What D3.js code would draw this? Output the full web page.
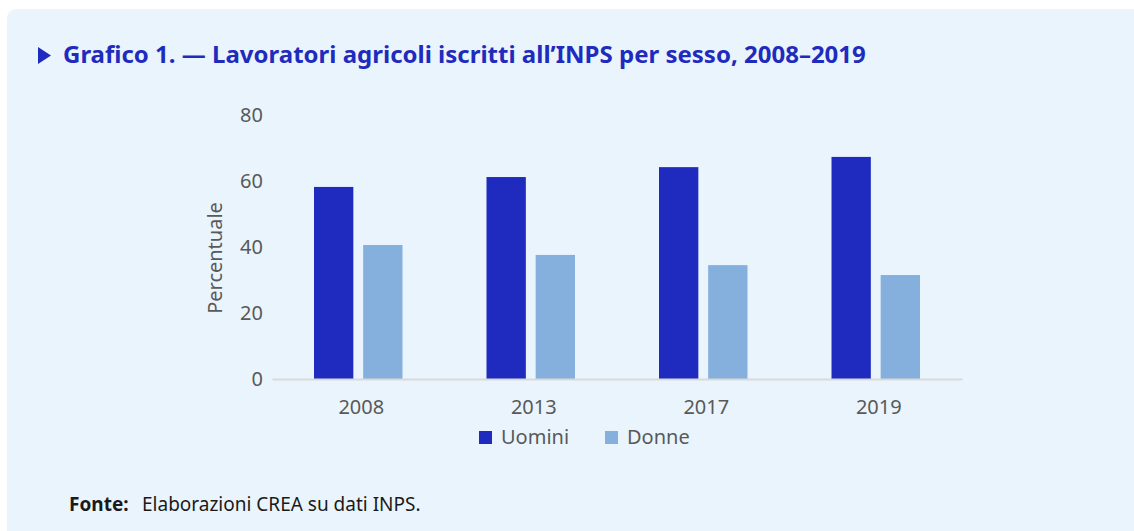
<!DOCTYPE html>
<html lang="it">
<head>
<meta charset="UTF-8">
<script src="https://d3js.org/d3.v7.min.js"></script>
<style>
  body { margin: 0; background: #fff; font-family: "Noto Sans", sans-serif; }
</style>
</head>
<body>
<svg id="chart" width="1134" height="531"></svg>
<script>
// data
var years = ["2008", "2013", "2017", "2019"];
var series = ["Uomini", "Donne"];
var uomini = [58.2, 61.2, 64.2, 67.3];
var donne = [40.6, 37.6, 34.5, 31.5];
var yTicks = [0, 20, 40, 60, 80];
var colours = ["#1f2bbe", "#85afdc"];

var svg = d3.select("#chart");

// light blue panel
svg.append("rect")
  .attr("x", 7).attr("y", 9)
  .attr("width", 1140).attr("height", 540)
  .attr("rx", 9)
  .attr("fill", "#eaf4fd");

// title
svg.append("path")
  .attr("d", "M38,47 L51,55.5 L38,64 Z")
  .attr("fill", "#1f2bbe");
svg.append("text")
  .attr("x", 63).attr("y", 63)
  .attr("font-size", 24).attr("font-weight", "bold")
  .attr("fill", "#1f2bbe")
  .text("Grafico 1. \u2014 Lavoratori agricoli iscritti all\u2019INPS per sesso, 2008\u20132019");

var rows = years.map(function (y, i) {
  return { year: y, values: [uomini[i], donne[i]] };
});

var x = d3.scaleBand().domain(years).range([272, 962]);
var xSub = d3.scaleBand().domain(series)
  .range([42, x.bandwidth() - 42]).paddingInner(0.2);
var y = d3.scaleLinear().domain([0, 80]).range([379, 115]);

// y axis labels
var yAxis = svg.append("g")
  .attr("transform", "translate(263,0)")
  .call(d3.axisLeft(y).tickValues(yTicks).tickSize(0).tickPadding(0));
yAxis.select(".domain").remove();
yAxis.selectAll("text")
  .attr("font-family", "Noto Sans").attr("font-size", 20).attr("fill", "#595959");

svg.append("text")
  .attr("transform", "translate(222,258) rotate(-90)")
  .attr("text-anchor", "middle")
  .attr("font-size", 20).attr("fill", "#595959")
  .text("Percentuale");

// bars
var groups = svg.selectAll(".year")
  .data(rows)
  .enter().append("g")
  .attr("class", "year")
  .attr("transform", function (d) { return "translate(" + x(d.year) + ",0)"; });

groups.selectAll("rect")
  .data(function (d) { return d.values.map(function (v, i) { return { key: series[i], value: v, i: i }; }); })
  .enter().append("rect")
  .attr("x", function (d) { return xSub(d.key); })
  .attr("width", xSub.bandwidth())
  .attr("y", function (d) { return y(d.value); })
  .attr("height", function (d) { return y(0) - y(d.value); })
  .attr("fill", function (d) { return colours[d.i]; });

// x axis
var xAxis = svg.append("g")
  .attr("transform", "translate(0," + y(0) + ")")
  .call(d3.axisBottom(x).tickSize(0).tickPadding(21));
xAxis.select(".domain").attr("stroke", "#d9d9d9").attr("stroke-width", 2);
xAxis.selectAll("text")
  .attr("dx", 3)
  .attr("font-family", "Noto Sans").attr("font-size", 20).attr("fill", "#595959");

// legend
var legendX = [479, 605];
var legend = svg.selectAll(".legend")
  .data(series)
  .enter().append("g")
  .attr("class", "legend")
  .attr("transform", function (d, i) { return "translate(" + legendX[i] + ",431)"; });
legend.append("rect")
  .attr("width", 13).attr("height", 13)
  .attr("fill", function (d, i) { return colours[i]; });
legend.append("text")
  .attr("x", 22).attr("y", 13)
  .attr("font-size", 20).attr("fill", "#595959")
  .text(function (d) { return d; });

// source
svg.append("text")
  .attr("x", 69).attr("y", 511)
  .attr("font-size", 19).attr("fill", "#1a1a1a")
  .call(function (t) {
    t.append("tspan").attr("font-weight", "bold").text("Fonte:");
    t.append("tspan").attr("x", 142).text("Elaborazioni CREA su dati INPS.");
  });
</script>
</body>
</html>
